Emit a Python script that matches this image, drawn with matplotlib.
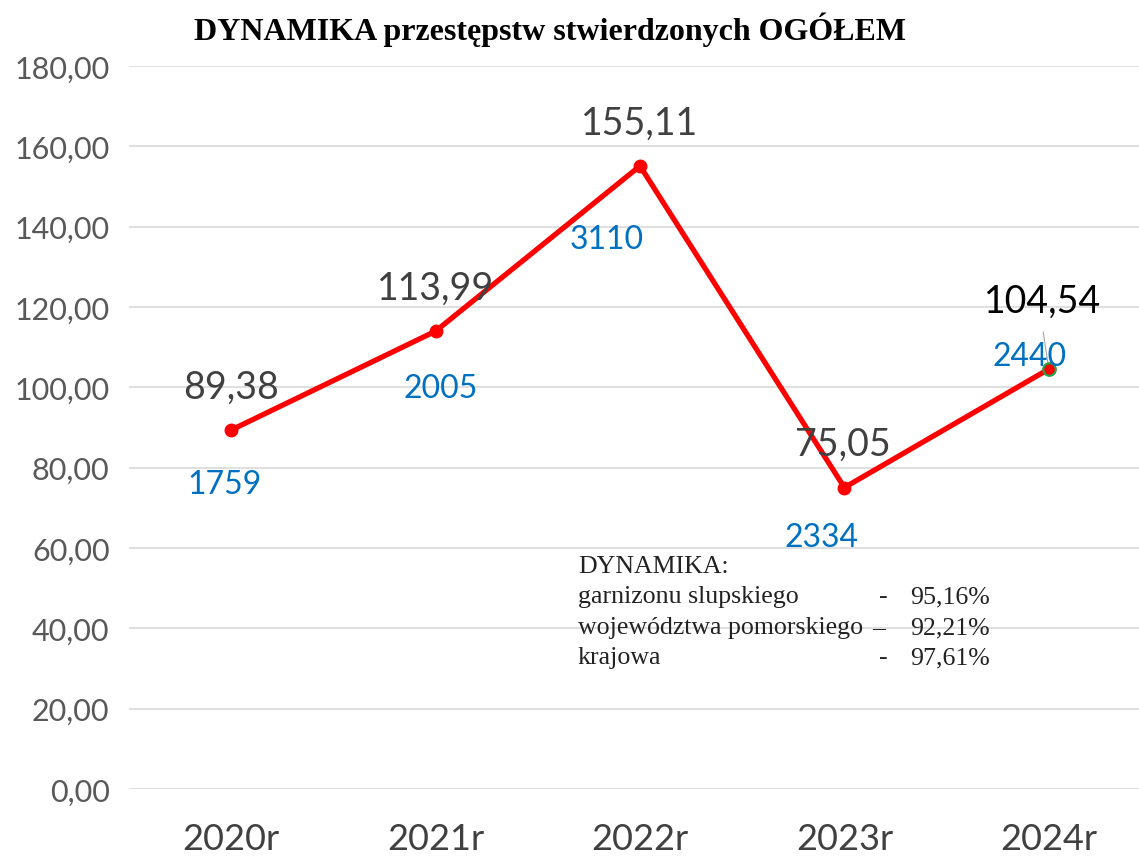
import matplotlib
matplotlib.use('Agg')
import matplotlib.pyplot as plt

# data
years = ['2020r', '2021r', '2022r', '2023r', '2024r']
dynamika = [89.38, 113.99, 155.11, 75.05, 104.54]
counts = [1759, 2005, 3110, 2334, 2440]
yticks = [0, 20, 40, 60, 80, 100, 120, 140, 160, 180]

# label offsets in pixels (dx, dy) relative to each point
val_offsets = [(0, 43), (0, 43), (0, 43), (-2, 44), (-6, 68)]
cnt_offsets = [(-7, -54), (5, -57), (-33, -73), (-23, -49), (-19, 13)]

info_lines = ['DYNAMIKA:',
              'garnizonu slupskiego',
              'województwa pomorskiego',
              'krajowa']
info_dashes = ['-', '–', '-']
info_values = ['95,16%', '92,21%', '97,61%']


def fmt(v):
    return f'{v:.2f}'.replace('.', ',')


fig = plt.figure(figsize=(11.39, 8.62), dpi=100)
ax = fig.add_axes([0.1133, 0.0835, 0.8972, 0.8388])

x = list(range(len(years)))
ax.plot(x, dynamika, color='#FF0000', lw=3.8, marker='o', ms=9,
        mfc='#FF0000', mec='#FF0000', zorder=3)
# last point has a green outline
ax.plot(x[-1], dynamika[-1], 'o', ms=9, mfc='#FF0000', mec='#22A64A', mew=1.5, zorder=4)

for i, v in enumerate(dynamika):
    col = '#000000' if i == len(dynamika) - 1 else '#404040'
    ax.annotate(fmt(v), (x[i], v), xytext=val_offsets[i], textcoords='offset pixels',
                ha='center', va='center', fontsize=27, color=col, family='Lato')
    ax.annotate(str(counts[i]), (x[i], v), xytext=cnt_offsets[i], textcoords='offset pixels',
                ha='center', va='center', fontsize=23, color='#0070C0', family='Lato',
                zorder=5)

# leader line for 2024 label
ax.annotate('', (x[-1], dynamika[-1]), xytext=(-6, 40), textcoords='offset pixels',
            arrowprops=dict(arrowstyle='-', color='#A6A6A6', lw=0.8), zorder=2)

ax.set_xlim(-0.5, 4.5)
ax.set_ylim(0, 180)
ax.set_yticks(yticks)
ax.set_yticklabels([fmt(t) for t in yticks], fontsize=22, color='#595959', family='Lato')
ax.set_xticks(x)
ax.set_xticklabels(years, fontsize=26, color='#404040', family='Lato')
ax.tick_params(length=0)
ax.tick_params(axis='y', pad=14)
ax.tick_params(axis='x', pad=24)
ax.grid(axis='y', color='#D9D9D9', lw=1.2)
ax.set_axisbelow(True)
for s in ax.spines.values():
    s.set_visible(False)

fig.text(550 / 1139, 1 - 30 / 862, 'DYNAMIKA przestępstw stwierdzonych OGÓŁEM',
         ha='center', va='center', fontsize=23, fontweight='bold', family='Liberation Serif')

y0 = 567
for j, line in enumerate(info_lines):
    fig.text(578 / 1139, 1 - (y0 + 30.5 * j) / 862, line, ha='left', va='center',
             fontsize=18.6, family='Liberation Serif', color='#222222')
for j, val in enumerate(info_values):
    yy = 1 - (y0 + 30.5 * (j + 1)) / 862
    dx = 883 if info_dashes[j] == '-' else 879
    fig.text(dx / 1139, yy, info_dashes[j], ha='center', va='center',
             fontsize=18.6, family='Liberation Serif', color='#222222')
    fig.text(990 / 1139, yy, val, ha='right', va='center',
             fontsize=18.6, family='Liberation Serif', color='#222222')

fig.savefig('out.png', dpi=100)
